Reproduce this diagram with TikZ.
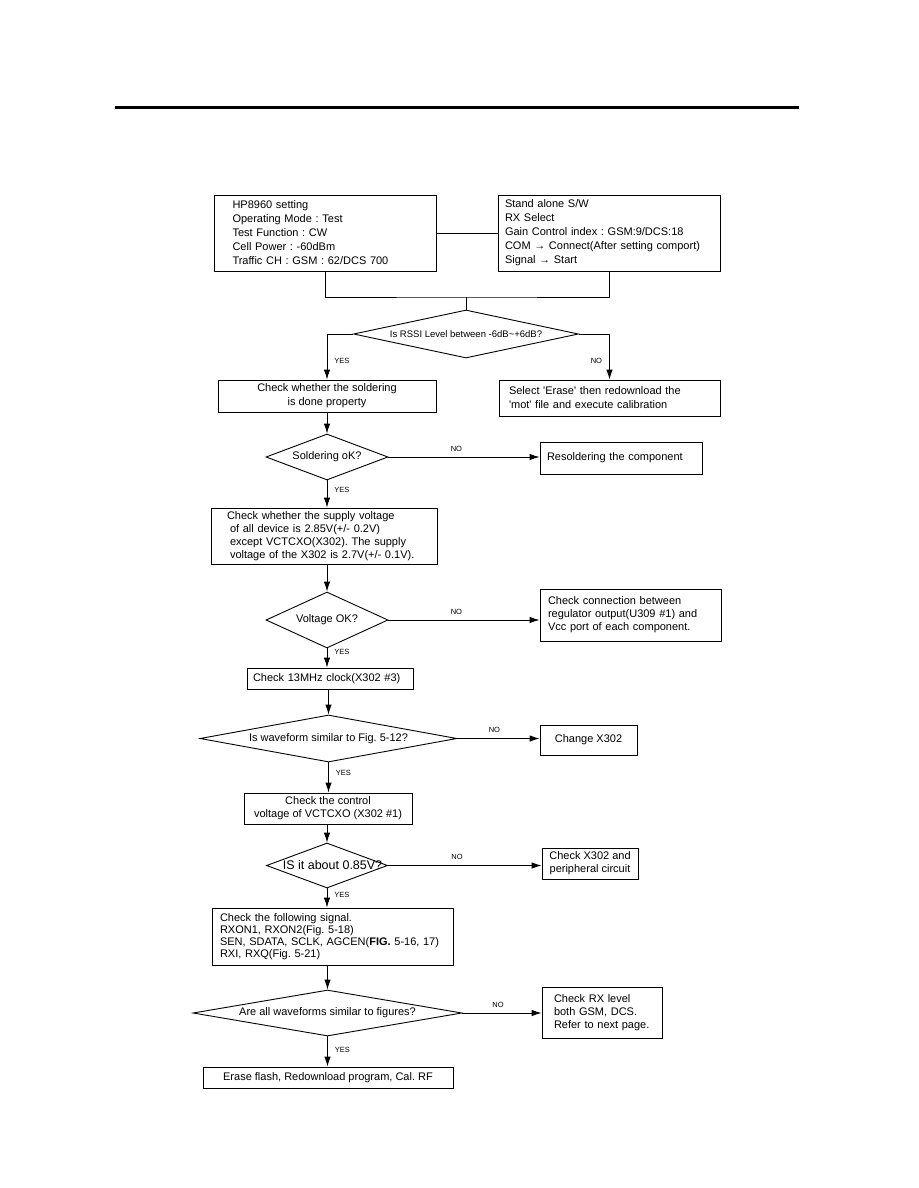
\documentclass[tikz,border=0pt]{standalone}
\usepackage{fontspec}
\setmainfont{Liberation Sans}
\usetikzlibrary{arrows.meta, positioning, shapes.geometric}
\frenchspacing
\tikzset{
  box/.style={rectangle,draw,align=center,inner sep=0pt},
  lbox/.style={box,align=left,inner xsep=#1},
  lbox/.default=8pt,
  decision/.style={diamond,draw,inner sep=0pt,label={center:#1}},
  line/.style={-{Latex[length=10pt,width=6.5pt]}},
  tag/.style={font=\fontsize{7.5}{8}\selectfont,inner sep=1pt}
}

\begin{document}
\begin{tikzpicture}[x=1pt,y=-1pt,line width=0.9pt,font=\fontsize{11}{14}\selectfont]
\useasboundingbox (0,0) rectangle (918,1188);
\draw[line width=3pt] (115,108) -- (799,108);

\node[lbox=18pt, text width=186pt, minimum height=76pt] (hp) at (325.5,233)
  {HP8960 setting\\Operating Mode : Test\\Test Function : CW\\Cell Power : -60dBm\\Traffic CH : GSM : 62/DCS 700};
\node[lbox=7pt, text width=208pt, minimum height=76pt] (sw) at (609,233)
  {Stand alone S/W\\RX Select\\Gain Control index : GSM:9/DCS:18\\COM → Connect(After setting comport)\\Signal → Start};
\coordinate (mrg) at (466,297);
\draw (hp) -- (sw);
\draw (hp.south) |- (mrg) -| (sw.south);

\node[decision={\fontsize{9.5}{10}\selectfont Is RSSI Level between -6dB\textasciitilde+6dB?}, minimum width=225pt, minimum height=48pt] (rssi) at (466,334) {};
\draw (mrg) -- (rssi.north);
\node[box, minimum width=218pt, minimum height=32pt] (chk) at (327,396)
  {Check whether the soldering\\is done property};
\node[lbox=10pt, text width=201pt, minimum height=36pt] (erase) at (609.5,398)
  {Select \textquotesingle Erase\textquotesingle{} then redownload the\\\textquotesingle mot\textquotesingle{} file and execute calibration};
\draw[line] (rssi.west) -| node[tag, pos=0.8, right=6pt] {YES} (chk.north);
\draw[line] (rssi.east) -| node[tag, pos=0.8, left=6pt] {NO} (erase.north);

\node[decision={Soldering oK?}, minimum width=122pt, minimum height=46pt] (q2) at (327,457) {};
\node[lbox=7pt, text width=148pt, minimum height=32pt] (resold) at (621,458) {Resoldering the component};
\draw[line] (chk.south) -- (q2.north);
\draw[line] (q2.east) -- node[tag, pos=0.45, above=4pt] {NO} (q2.east -| resold.west);

\node[lbox=16pt, text width=194pt, minimum height=56pt, font=\fontsize{11}{13}\selectfont] (supply) at (324,536)
  {Check whether the supply voltage\\\hspace*{3pt}of all device is 2.85V(+/- 0.2V)\\\hspace*{3pt}except VCTCXO(X302). The supply\\\hspace*{3pt}voltage of the X302 is 2.7V(+/- 0.1V).};
\draw[line] (q2.south) -- node[tag, pos=0.35, right=6pt] {YES} (q2.south |- supply.north);

\node[decision={Voltage OK?}, minimum width=122pt, minimum height=56pt] (q3) at (327,620) {};
\node[lbox=8pt, text width=165pt, minimum height=52pt, font=\fontsize{11}{13}\selectfont] (conn) at (630.5,615)
  {Check connection between\\regulator output(U309 \#1) and\\Vcc port of each component.};
\draw[line] (supply.south -| q3.north) -- (q3.north);
\draw[line] (q3.east) -- node[tag, pos=0.45, above=4pt] {NO} (q3.east -| conn.west);

\node[lbox=6pt, text width=154pt, minimum height=21pt] (clk) at (330,678.5) {Check 13MHz clock(X302 \#3)};
\draw[line] (q3.south) -- node[tag, pos=0.2, right=6pt] {YES} (q3.south |- clk.north);

\node[decision={Is waveform similar to Fig. 5-12?}, minimum width=257pt, minimum height=47pt] (q4) at (328.5,738.5) {};
\node[box, minimum width=97pt, minimum height=30pt] (x302) at (588.5,740) {Change X302};
\draw[line] (q4.north |- clk.south) -- (q4.north);
\draw[line] (q4.east) -- node[tag, pos=0.45, above=4pt] {NO} (q4.east -| x302.west);

\node[box, minimum width=168pt, minimum height=31pt, font=\fontsize{11}{13}\selectfont] (ctl) at (328,808.5)
  {Check the control\\voltage of VCTCXO (X302 \#1)};
\draw[line] (q4.south) -- node[tag, pos=0.35, right=6pt] {YES} (q4.south |- ctl.north);

\node[decision={\hspace*{11pt}\fontsize{12.5}{13}\selectfont IS it about 0.85V?}, minimum width=121pt, minimum height=45pt] (q5) at (327,865.5) {};
\node[box, minimum width=96pt, minimum height=31pt, font=\fontsize{11}{13}\selectfont] (periph) at (590,863.5)
  {Check X302 and\\peripheral circuit};
\draw[line] (q5.north |- ctl.south) -- (q5.north);
\draw[line] (q5.east) -- node[tag, pos=0.45, above=4pt] {NO} (q5.east -| periph.west);

\node[lbox=8pt, text width=225pt, minimum height=57pt, font=\fontsize{11}{12}\selectfont] (sig) at (332.5,936.5)
  {Check the following signal.\\RXON1, RXON2(Fig. 5-18)\\SEN, SDATA, SCLK, AGCEN(\textbf{FIG.} 5-16, 17)\\RXI, RXQ(Fig. 5-21)};
\draw[line] (q5.south) -- node[tag, pos=0.35, right=6pt] {YES} (q5.south |- sig.north);

\node[decision={Are all waveforms similar to figures?}, minimum width=269pt, minimum height=46pt] (q6) at (327.5,1013) {};
\node[lbox=12pt, text width=96pt, minimum height=51pt, font=\fontsize{11}{13}\selectfont] (rx) at (602,1012.5)
  {Check RX level\\both GSM, DCS.\\Refer to next page.};
\draw[line] (q6.north |- sig.south) -- (q6.north);
\draw[line] (q6.east) -- node[tag, pos=0.45, above=4pt] {NO} (q6.east -| rx.west);

\node[box, minimum width=250pt, minimum height=21pt] (fin) at (328,1077.5) {Erase flash, Redownload program, Cal. RF};
\draw[line] (q6.south) -- node[tag, pos=0.45, right=6pt] {YES} (q6.south |- fin.north);
\end{tikzpicture}
\end{document}
